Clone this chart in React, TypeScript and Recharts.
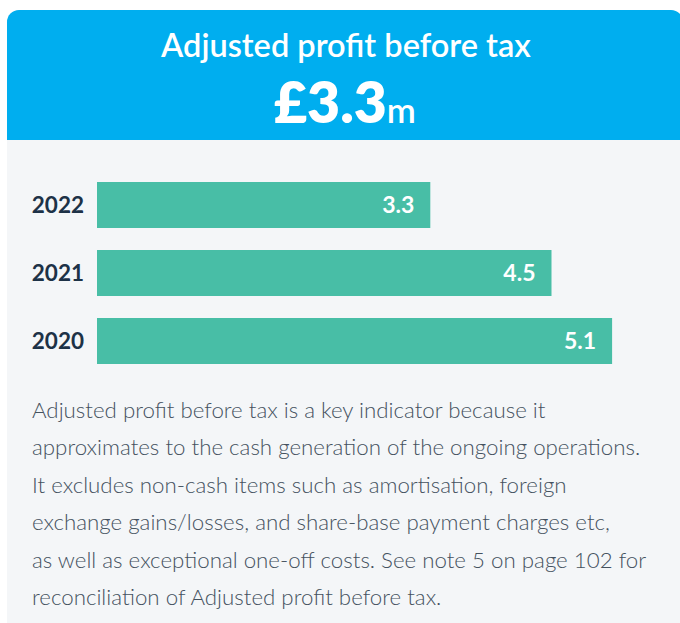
import React from "react";
import { BarChart, Bar, XAxis, YAxis, LabelList } from "recharts";

const years = ["2022", "2021", "2020"];
const profits = [3.3, 4.5, 5.1];
const headline = "£3.3";
const headlineUnit = "m";
const title = "Adjusted profit before tax";
const noteLines = [
  "Adjusted profit before tax is a key indicator because it",
  "approximates to the cash generation of the ongoing operations.",
  "It excludes non-cash items such as amortisation, foreign",
  "exchange gains/losses, and share-base payment charges etc,",
  "as well as exceptional one-off costs. See note 5 on page 102 for",
  "reconciliation of Adjusted profit before tax.",
];

const data = years.map((y, i) => ({ year: y, value: profits[i] }));

const FONT = "Lato, 'Noto Sans', sans-serif";

export default function App() {
  return (
    <div
      style={{
        position: "absolute",
        left: 0,
        top: 0,
        width: 680,
        height: 623,
        overflow: "hidden",
        background: "#ffffff",
        fontFamily: FONT,
      }}
    >
      <div
        style={{
          position: "absolute",
          left: 7,
          top: 10,
          width: 676,
          height: 640,
          borderRadius: 12,
          overflow: "hidden",
          background: "#F4F6F8",
        }}
      >
        <div style={{ position: "absolute", left: 0, top: 0, width: "100%", height: 130, background: "#00AEEF" }} />
      </div>
      <svg
        width={680}
        height={623}
        style={{ position: "absolute", left: 0, top: 0, pointerEvents: "none" }}
      >
        <text x={346} y={57} textAnchor="middle" fill="#ffffff" fontSize={32.5} fontWeight={600} fontFamily={FONT}>
          {title}
        </text>
        <text x={345} y={123} textAnchor="middle" fill="#ffffff" fontFamily={FONT}>
          <tspan fontSize={57} fontWeight={800}>{headline}</tspan>
          <tspan fontSize={35} fontWeight={600}>{headlineUnit}</tspan>
        </text>
        {noteLines.map((line, i) => (
          <text key={i} x={32} y={418 + i * 37.4} fill="#45525F" fontSize={22.3} fontWeight={300} fontFamily={FONT}>
            {line}
          </text>
        ))}
      </svg>
      <div style={{ position: "absolute", left: 0, top: 171 }}>
        <BarChart
          width={680}
          height={204}
          data={data}
          layout="vertical"
          margin={{ top: 0, right: 27.5, bottom: 0, left: 0 }}
          barCategoryGap={11}
        >
          <XAxis type="number" domain={[0, 5.5]} hide />
          <YAxis
            type="category"
            dataKey="year"
            width={97}
            axisLine={false}
            tickLine={false}
            tickSize={0}
            tickMargin={13}
            tick={{ fill: "#1D3247", fontSize: 22.5, fontWeight: 700, fontFamily: FONT }}
          />
          <Bar dataKey="value" fill="#48BEA6" barSize={46} isAnimationActive={false}>
            <LabelList
              dataKey="value"
              position="insideRight"
              offset={16}
              fill="#ffffff"
              fontSize={23}
              fontWeight={700}
              fontFamily={FONT}
            />
          </Bar>
        </BarChart>
      </div>
    </div>
  );
}
